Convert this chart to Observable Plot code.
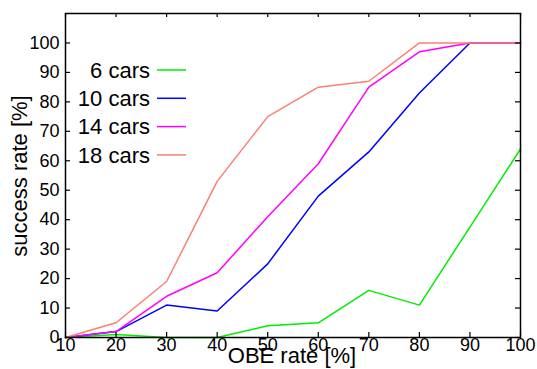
<!DOCTYPE html>
<html><head><meta charset="utf-8">
<script src="https://cdn.jsdelivr.net/npm/d3@7"></script>
<script src="https://cdn.jsdelivr.net/npm/@observablehq/plot@0.6"></script>
<style>
html,body{margin:0;padding:0;background:#fff;}
svg{font-family:"Liberation Sans",Arial,sans-serif;}
</style></head><body>
<div id="chart"></div>
<script>
const obeRates = [10,20,30,40,50,60,70,80,90,100];
const seriesNames = ["6 cars","10 cars","14 cars","18 cars"];
const cars6  = [0,1,0,0,4,5,16,11,37.5,64];
const cars10 = [0,2,11,9,25,48,63,83,100,100];
const cars14 = [0,2,14,22,41,59,85,97,100,100];
const cars18 = [0,5,19,53,75,85,87,100,100,100];
const seriesColors = ["#00ee00","#0000ff","#ff00ff","#fa8072"];
const yTicks = [0,10,20,30,40,50,60,70,80,90,100];
const xTicks = [10,20,30,40,50,60,70,80,90,100];

const allSeries = [cars6,cars10,cars14,cars18];
const rows = [];
allSeries.forEach((vals,si)=>vals.forEach((v,i)=>rows.push({series:seriesNames[si],x:obeRates[i],y:v})));

const W=537,H=369,mL=65,mR=17,mT=13,mB=32;
const plot = Plot.plot({
  width:W,height:H,marginLeft:mL,marginRight:mR,marginTop:mT,marginBottom:mB,
  style:{fontFamily:"Liberation Sans, Arial, sans-serif",background:"#fff"},
  x:{domain:[10,100],label:null},
  y:{domain:[0,110],label:null},
  color:{domain:seriesNames,range:seriesColors},
  marks:[
    Plot.line(rows,{x:"x",y:"y",z:"series",stroke:"series",strokeWidth:1.5}),
    Plot.tickX(xTicks,{x:d=>d,insetTop:H-mT-mB-5,stroke:"#000",strokeWidth:1.2}),
    Plot.tickX(xTicks,{x:d=>d,insetBottom:H-mT-mB-4,stroke:"#000",strokeWidth:1.2}),
    Plot.tickY(yTicks,{y:d=>d,insetRight:W-mL-mR-5,stroke:"#000",strokeWidth:1.2}),
    Plot.tickY(yTicks,{y:d=>d,insetLeft:W-mL-mR-5,stroke:"#000",strokeWidth:1.2}),
    Plot.axisX(xTicks,{tickSize:0,tickPadding:1,fontSize:18,fill:"#000",label:null,textAnchor:"middle"}),
    Plot.axisY(yTicks,{tickSize:0,tickPadding:6,fontSize:18,fill:"#000",label:null}),
    Plot.frame({stroke:"#000",strokeWidth:1.5})
  ]
});
document.getElementById("chart").appendChild(plot);

const svg = d3.select(plot);
// axis titles
svg.append("text").attr("x",292).attr("y",363).attr("text-anchor","middle")
  .attr("font-size",22).attr("fill","#000").text("OBE rate [%]");
svg.append("text").attr("transform","translate(27,176) rotate(-90)").attr("text-anchor","middle")
  .attr("font-size",22).attr("fill","#000").text("success rate [%]");
// legend
seriesNames.forEach((name,i)=>{
  const cy = 70 + i*28.3;
  svg.append("text").attr("x",150).attr("y",cy).attr("dy","0.35em").attr("text-anchor","end")
    .attr("font-size",22).attr("fill","#000").text(name);
  svg.append("line").attr("x1",157).attr("x2",186).attr("y1",cy).attr("y2",cy)
    .attr("stroke",seriesColors[i]).attr("stroke-width",1.5);
});
</script></body></html>
